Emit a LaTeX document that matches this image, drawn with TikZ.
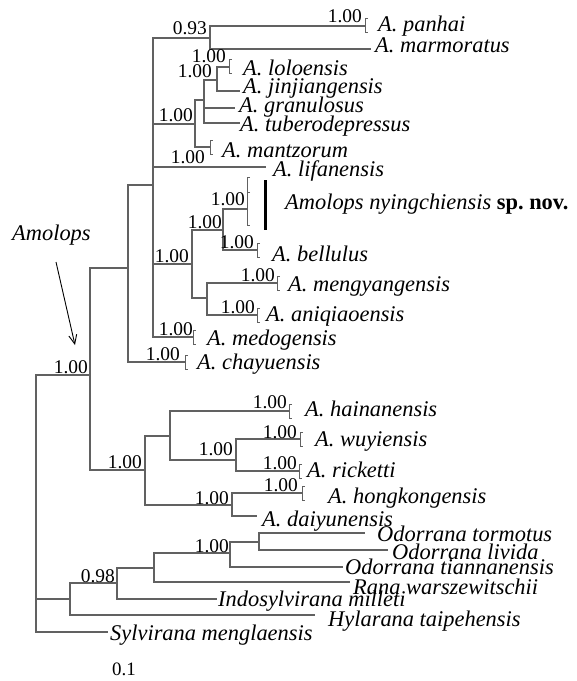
\documentclass[tikz,border=0pt]{standalone}
\usepackage{fontspec}
\setmainfont{Liberation Serif}
\usetikzlibrary{arrows.meta}
\frenchspacing
\begin{document}
\begin{tikzpicture}[x=1bp,y=-1bp,
  br/.style={draw=black!62, line width=1.3bp},
  sp/.style={anchor=base west, inner sep=0pt, font=\fontsize{22.5}{22.5}\selectfont\itshape},
  sup/.style={anchor=base east, inner sep=0pt, font=\fontsize{19.5}{19.5}\selectfont},
]
\useasboundingbox (0,0) rectangle (577,681);
% internal nodes
\coordinate (R) at (36,500);
\coordinate (A) at (90,375);
\coordinate (B) at (128,268);
\coordinate (C) at (153,185);
\coordinate (D) at (210,38);
\coordinate (E) at (195,124);
\coordinate (G) at (204,100);
\coordinate (H) at (217,80);
\coordinate (F) at (192,264);
\coordinate (I) at (223,230);
\coordinate (J) at (207,298);
\coordinate (L) at (145,470);
\coordinate (M) at (170,436);
\coordinate (P) at (236,460);
\coordinate (N) at (232,505);
\coordinate (O1) at (70,599);
\coordinate (O2) at (117,583);
\coordinate (O3) at (154,568);
\coordinate (O4) at (230,553);
\coordinate (O5) at (259,542);
% tips
\coordinate (panhai) at (365,26);
\coordinate (marm) at (371,49);
\coordinate (lolo) at (229,67);
\coordinate (jinj) at (240,91);
\coordinate (gran) at (235,108);
\coordinate (tube) at (240,123);
\coordinate (mant) at (210,147);
\coordinate (lifa) at (266,167);
\coordinate (nying) at (247,209);
\coordinate (bell) at (257,250);
\coordinate (meng) at (277,283);
\coordinate (aniq) at (257,315);
\coordinate (medo) at (193,337);
\coordinate (chay) at (185,362);
\coordinate (hain) at (289,411);
\coordinate (wuyi) at (300,439);
\coordinate (rick) at (299,471);
\coordinate (hong) at (302,493);
\coordinate (daiy) at (257,516);
\coordinate (torm) at (365,533);
\coordinate (livi) at (388,550);
\coordinate (tian) at (343,567);
\coordinate (rana) at (350,582);
\coordinate (indo) at (217,599);
\coordinate (hyla) at (315,615);
\coordinate (sylv) at (108,632);
% branches
\foreach \p/\c in {R/A,R/O1,R/sylv,A/B,A/L,B/C,B/chay,C/D,C/E,C/lifa,C/F,C/medo,
  D/panhai,D/marm,E/G,E/mant,G/H,G/gran,G/tube,H/lolo,H/jinj,F/I,F/J,I/nying,I/bell,
  J/meng,J/aniq,L/M,L/N,M/hain,M/P,P/wuyi,P/rick,N/hong,N/daiy,
  O1/O2,O1/hyla,O2/O3,O2/indo,O3/O4,O3/rana,O4/O5,O4/tian,O5/torm,O5/livi}
  \draw[br] (\p) |- (\c);
% collapsed-tip brackets
\foreach \t in {panhai,lolo,mant,bell,meng,aniq,medo,chay,hain,wuyi,rick,hong}
  \draw[br, line width=1bp] (\t) ++(3,-7) -- ++(-3,0) -- ++(0,14) -- ++(3,0);
\draw[br, line width=1bp] (nying) ++(3,-32) -- ++(-3,0) -- ++(0,48) -- ++(3,0);
\draw[br, line width=1bp] (nying) ++(3,-17) -- ++(-3,0);
% thick bar
\coordinate (barT) at (265.5,180);
\coordinate (barB) at (265.5,230);
\draw[line width=3bp] (barT) -- (barB);
% species labels
\node[sp] (l-panhai) at (378,32) {A. panhai};
\node[sp] (l-marm) at (375,53) {A. marmoratus};
\node[sp] (l-lolo) at (243,76) {A. loloensis};
\node[sp] (l-jinj) at (243,94) {A. jinjiangensis};
\node[sp] (l-gran) at (239,113) {A. granulosus};
\node[sp] (l-tube) at (240,132) {A. tuberodepressus};
\node[sp] (l-mant) at (222,157) {A. mantzorum};
\node[sp] (l-lifa) at (273,176) {A. lifanensis};
\node[sp] (l-nying) at (285,209) {Amolops nyingchiensis \textbf{\upshape sp.\ nov.}};
\node[sp] (l-bell) at (272,261) {A. bellulus};
\node[sp] (l-meng) at (288,291) {A. mengyangensis};
\node[sp] (l-aniq) at (266,321) {A. aniqiaoensis};
\node[sp] (l-medo) at (207,345) {A. medogensis};
\node[sp] (l-chay) at (197,369) {A. chayuensis};
\node[sp] (l-hain) at (305,416) {A. hainanensis};
\node[sp] (l-wuyi) at (315,446) {A. wuyiensis};
\node[sp] (l-rick) at (307,477) {A. ricketti};
\node[sp] (l-hong) at (328,503) {A. hongkongensis};
\node[sp] (l-daiy) at (262,526) {A. daiyunensis};
\node[sp] (l-torm) at (377,541) {Odorrana tormotus};
\node[sp] (l-livi) at (392,559) {Odorrana livida};
\node[sp] (l-tian) at (345,574) {Odorrana tiannanensis};
\node[sp] (l-rana) at (353,594) {Rana warszewitschii};
\node[sp] (l-indo) at (218,606) {Indosylvirana milleti};
\node[sp] (l-hyla) at (328,626) {Hylarana taipehensis};
\node[sp] (l-sylv) at (110,640) {Sylvirana menglaensis};
% support values
\node[sup] (s1) at (207,35) {0.93};
\node[sup] (s2) at (362,23) {1.00};
\node[sup] (s3) at (226,63) {1.00};
\node[sup] (s4) at (212,78) {1.00};
\node[sup] (s5) at (193,122) {1.00};
\node[sup] (s6) at (205,163) {1.00};
\node[sup] (s7) at (245,205) {1.00};
\node[sup] (s8) at (222,228) {1.00};
\node[sup] (s9) at (189,262) {1.00};
\node[sup] (s10) at (254,248) {1.00};
\node[sup] (s11) at (275,281) {1.00};
\node[sup] (s12) at (255,313) {1.00};
\node[sup] (s13) at (193,335) {1.00};
\node[sup] (s14) at (180,360) {1.00};
\node[sup] (s15) at (88,373) {1.00};
\node[sup] (s16) at (287,408) {1.00};
\node[sup] (s17) at (297,438) {1.00};
\node[sup] (s18) at (297,469) {1.00};
\node[sup] (s19) at (298,491) {1.00};
\node[sup] (s20) at (142,468) {1.00};
\node[sup] (s21) at (233,455) {1.00};
\node[sup] (s22) at (229,504) {1.00};
\node[sup] (s23) at (229,552) {1.00};
\node[sup] (s24) at (115,582) {0.98};
\node[anchor=base west, inner sep=0pt, font=\fontsize{19}{19}\selectfont] (scale) at (112,675) {0.1};
% Amolops label and arrow
\node[sp] (amol) at (12,240) {Amolops};
\coordinate (arrS) at (56,262);
\coordinate (arrE) at (75,345);
\draw[line width=0.9bp, -{Straight Barb[length=9bp,width=8bp]}] (arrS) -- (arrE);
\end{tikzpicture}
\end{document}
